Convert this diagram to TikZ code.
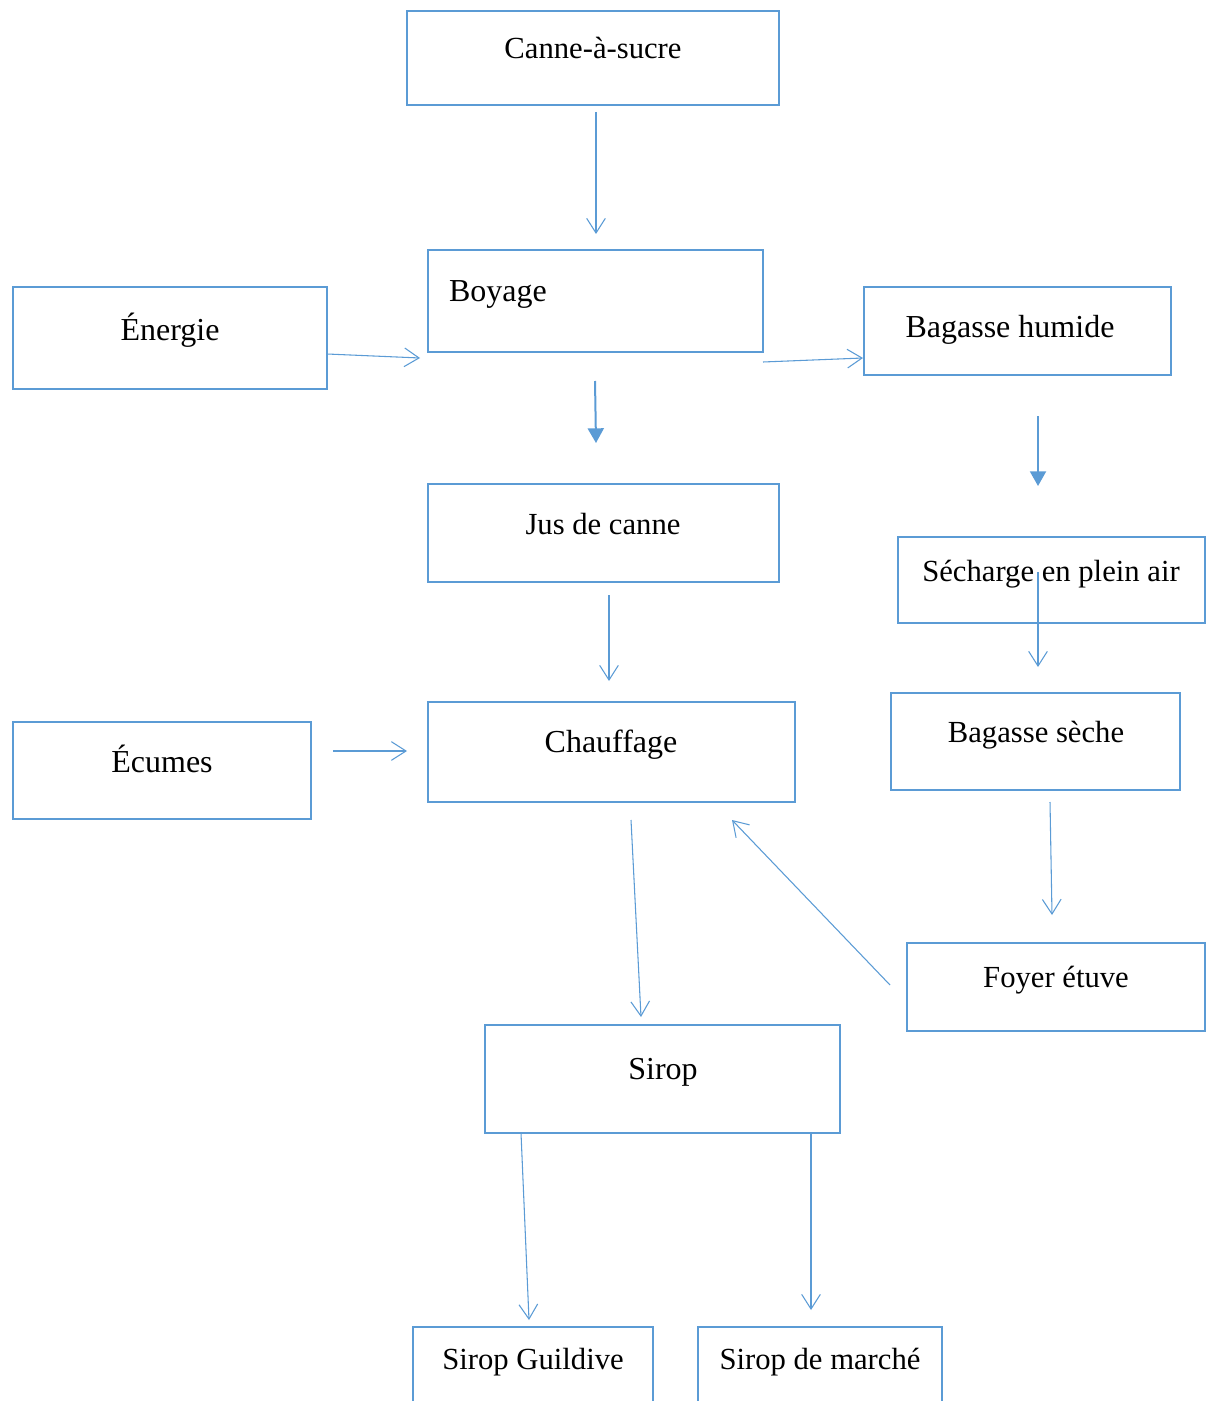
\documentclass[tikz,border=0pt]{standalone}
\usepackage{fontspec}
\setmainfont{Liberation Serif}
\usetikzlibrary{arrows.meta}
\definecolor{bl}{HTML}{5B9BD5}
\tikzset{
  x=0.75pt, y=-0.75pt,
  box/.style={draw=bl, line width=2.2pt, rectangle, inner sep=0pt},
  big/.style={anchor=base, inner sep=0pt, font=\fontsize{24}{28}\selectfont},
  small/.style={anchor=base, inner sep=0pt, font=\fontsize{23}{27}\selectfont},
  thin/.style={draw=bl, line width=0.8pt, -{Straight Barb[length=11pt,width=14pt,line width=0.8pt]}},
  thick/.style={draw=bl, line width=1.5pt, -{Triangle[length=11pt,width=12pt]}}
}
\begin{document}
\begin{tikzpicture}
\useasboundingbox (0,0) rectangle (1210,1401);
\clip (0,0) rectangle (1210,1401);
% boxes
\node[box, minimum width=279pt, minimum height=70.5pt] (canne) at (593,58) {};
\node[box, minimum width=251.25pt, minimum height=76.5pt] (boyage) at (595.5,301) {};
\node[box, minimum width=235.5pt, minimum height=76.5pt] (energie) at (170,338) {};
\node[box, minimum width=230.25pt, minimum height=66pt] (bhum) at (1017.5,331) {};
\node[box, minimum width=263.25pt, minimum height=73.5pt] (jus) at (603.5,533) {};
\node[box, minimum width=230.25pt, minimum height=64.5pt] (sech) at (1051.5,580) {};
\node[box, minimum width=223.5pt, minimum height=72.75pt] (ecumes) at (162,770.5) {};
\node[box, minimum width=275.25pt, minimum height=75pt] (chauf) at (611.5,752) {};
\node[box, minimum width=216.75pt, minimum height=72.75pt] (bsec) at (1035.5,741.5) {};
\node[box, minimum width=223.5pt, minimum height=66pt] (foyer) at (1056,987) {};
\node[box, minimum width=266.25pt, minimum height=81pt] (sirop) at (662.5,1079) {};
\node[box, minimum width=180pt, minimum height=78pt] (guild) at (533,1379) {};
\node[box, minimum width=183pt, minimum height=78pt] (marche) at (820,1379) {};
% texts
\node[small] (tcanne) at (593,59) {Canne-à-sucre};
\node[big] (tboyage) at (498,301) {Boyage};
\node[big] (tenergie) at (170,340) {Énergie};
\node[big] (tbhum) at (1010,337) {Bagasse humide};
\node[small] (tjus) at (603,534) {Jus de canne};
\node[small] (tsech) at (1051,581) {Sécharge en plein air};
\node[big] (tecumes) at (162,772) {Écumes};
\node[big] (tchauf) at (611,752) {Chauffage};
\node[small] (tbsec) at (1036,742) {Bagasse sèche};
\node[small] (tfoyer) at (1056,987) {Foyer étuve};
\node[big] (tsirop) at (663,1079) {Sirop};
\node[small] (tguild) at (533,1369) {Sirop Guildive};
\node[small] (tmarche) at (820,1369) {Sirop de marché};
% connector end points
\coordinate (a1) at (596,112); \coordinate (b1) at (596,234);
\coordinate (a2) at (327,354); \coordinate (b2) at (420,358);
\coordinate (a3) at (763,362); \coordinate (b3) at (863,358);
\coordinate (a4) at (595,381); \coordinate (b4) at (596,443);
\coordinate (a5) at (1038,416); \coordinate (b5) at (1038,486);
\coordinate (a6) at (609,595); \coordinate (b6) at (609,681);
\coordinate (a7) at (1038,572); \coordinate (b7) at (1038,667);
\coordinate (a8) at (333,751); \coordinate (b8) at (407,751);
\coordinate (a9) at (1050,802); \coordinate (b9) at (1052,915);
\coordinate (a10) at (631,820); \coordinate (b10) at (641,1017);
\coordinate (a11) at (890,985); \coordinate (b11) at (732,820);
\coordinate (a12) at (521,1133); \coordinate (b12) at (529,1320);
\coordinate (a13) at (811,1133); \coordinate (b13) at (811,1310);
% connectors
\draw[thin] (a1) -- (b1);
\draw[thin] (a2) -- (b2);
\draw[thin] (a3) -- (b3);
\draw[thick] (a4) -- (b4);
\draw[thick] (a5) -- (b5);
\draw[thin] (a6) -- (b6);
\draw[thin] (a7) -- (b7);
\draw[thin] (a8) -- (b8);
\draw[thin] (a9) -- (b9);
\draw[thin] (a10) -- (b10);
\draw[thin] (a11) -- (b11);
\draw[thin] (a12) -- (b12);
\draw[thin] (a13) -- (b13);
\end{tikzpicture}
\end{document}
